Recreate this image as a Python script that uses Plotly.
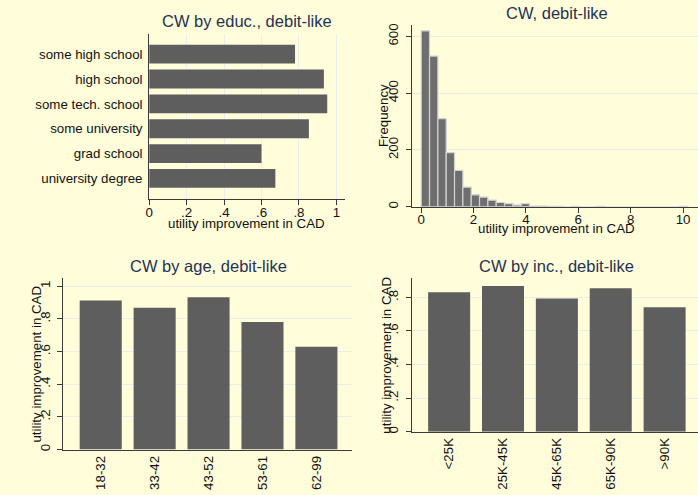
import plotly.graph_objects as go

W, H = 698, 495

# ---- data ----
educ_cats = ["some high school", "high school", "some tech. school",
             "some university", "grad school", "university degree"]
educ_vals = [0.779, 0.933, 0.951, 0.853, 0.600, 0.674]

hist_start = 0.005
hist_width = 0.318
hist_counts = [620, 531, 310, 191, 128, 69, 42, 34, 23, 15, 11, 6, 11, 2,
               2, 1, 1, 0, 1, 0, 0, 1, 0, 0, 0, 0, 0, 0, 0, 0, 0, 1]

age_cats = ["18-32", "33-42", "43-52", "53-61", "62-99"]
age_vals = [0.913, 0.868, 0.933, 0.781, 0.629]

inc_cats = ["<25K", "25K-45K", "45K-65K", "65K-90K", ">90K"]
inc_vals = [0.830, 0.867, 0.793, 0.854, 0.741]

x_title = "utility improvement in CAD"

# ---- style ----
BG = "#FFFDDA"
BAR = "#5E5E5E"
HBAR = "#6E6E6E"
GRID = "#E9EEE6"
AXIS = "#3A3A3A"
TITLE_C = "#1F3352"
FONT = "Arial, Liberation Sans, sans-serif"
FS = 13.3
TFS = 16.5
TICKF = dict(family=FONT, size=FS, color="#111111")

def px_x(p):
    return p / W

def px_y(p):
    return 1 - p / H

fig = go.Figure()

hist_centers = [hist_start + hist_width * (i + 0.5) for i in range(len(hist_counts))]

fig.add_trace(go.Bar(x=educ_vals, y=educ_cats, orientation="h", width=0.76,
                     marker=dict(color=BAR, line=dict(width=0)),
                     xaxis="x", yaxis="y", showlegend=False))
fig.add_trace(go.Bar(x=hist_centers, y=hist_counts, width=hist_width,
                     marker=dict(color=HBAR, line=dict(color="#D2D2D2", width=1.2)),
                     xaxis="x2", yaxis="y2", showlegend=False))
fig.add_trace(go.Bar(x=age_cats, y=age_vals, width=0.78,
                     marker=dict(color=BAR, line=dict(width=0)),
                     xaxis="x3", yaxis="y3", showlegend=False))
fig.add_trace(go.Bar(x=inc_cats, y=inc_vals, width=0.78,
                     marker=dict(color=BAR, line=dict(width=0)),
                     xaxis="x4", yaxis="y4", showlegend=False))

common = dict(showline=True, linecolor=AXIS, linewidth=1, ticks="outside",
              ticklen=5, tickcolor=AXIS, tickwidth=1, tickfont=TICKF,
              zeroline=False, fixedrange=True)
nocat = dict(showline=True, linecolor=AXIS, linewidth=1, ticks="",
             tickfont=TICKF, zeroline=False, fixedrange=True)

YSO = 2

layout = dict(
    width=W, height=H, margin=dict(l=0, r=0, t=0, b=0),
    paper_bgcolor=BG, plot_bgcolor=BG, showlegend=False,
    font=dict(family=FONT, size=FS, color="#111111"),
    # panel 1
    xaxis=dict(domain=[px_x(146), px_x(343)], anchor="y", range=[0, 1.046],
               tickvals=[0, 0.2, 0.4, 0.6, 0.8, 1], ticktext=["0", ".2", ".4", ".6", ".8", "1"],
               showgrid=True, gridcolor=GRID, gridwidth=1, ticklabelstandoff=-4, **common),
    yaxis=dict(domain=[px_y(199), px_y(33)], anchor="x", range=[5.82, -0.82],
               type="category", categoryorder="array", categoryarray=educ_cats,
               showgrid=False, ticklabelstandoff=3, **nocat),
    # panel 2
    xaxis2=dict(domain=[px_x(410), 1.0], anchor="y2", range=[-0.36, 10.57],
                tickvals=[0, 2, 4, 6, 8, 10], showgrid=False, ticklabelstandoff=-5, **common),
    yaxis2=dict(domain=[px_y(207), px_y(24)], anchor="x2", range=[0, 641],
                tickvals=[0, 200, 400, 600], tickangle=-90, ticklabelstandoff=YSO,
                showgrid=True, gridcolor=GRID, gridwidth=1, **common),
    # panel 3
    xaxis3=dict(domain=[px_x(59.3), px_x(350)], anchor="y3", range=[-0.70, 4.66],
                type="category", categoryorder="array", categoryarray=age_cats,
                tickangle=-90, showgrid=False, **nocat),
    yaxis3=dict(domain=[px_y(451.3), px_y(278.7)], anchor="x3", range=[0, 1.0505],
                tickvals=[0, 0.2, 0.4, 0.6, 0.8, 1], ticktext=["0", ".2", ".4", ".6", ".8", "1"],
                tickangle=-90, ticklabelstandoff=YSO,
                showgrid=True, gridcolor=GRID, gridwidth=1, **common),
    # panel 4
    xaxis4=dict(domain=[px_x(410), 1.0], anchor="y4", range=[-0.696, 4.62],
                type="category", categoryorder="array", categoryarray=inc_cats,
                tickangle=-90, showgrid=False, **nocat),
    yaxis4=dict(domain=[px_y(433.3), px_y(278.7)], anchor="x4", range=[0, 0.915],
                tickvals=[0, 0.2, 0.4, 0.6, 0.8], ticktext=["0", ".2", ".4", ".6", ".8"],
                tickangle=-90, ticklabelstandoff=YSO,
                showgrid=True, gridcolor=GRID, gridwidth=1, **common),
)
fig.update_layout(**layout)

def ann(text, x, y, size=FS, color="#111111", angle=0):
    fig.add_annotation(text=text, x=px_x(x), y=px_y(y), xref="paper", yref="paper",
                       showarrow=False, xanchor="center", yanchor="middle",
                       textangle=angle, font=dict(family=FONT, size=size, color=color))

# panel titles
ann("CW by educ., debit-like", 244, 20, size=TFS, color=TITLE_C)
ann("CW, debit-like", 556, 12.5, size=TFS, color=TITLE_C)
ann("CW by age, debit-like", 206, 266.5, size=TFS, color=TITLE_C)
ann("CW by inc., debit-like", 555.5, 266.5, size=TFS, color=TITLE_C)

# axis titles
ann(x_title, 244, 223.5)
ann(x_title, 556, 228.5)
ann("Frequency", 381.5, 115.5, angle=-90)
ann(x_title, 33, 365, angle=-90)
ann(x_title, 385, 356, angle=-90)

fig.write_html("out.html", config={"displayModeBar": False},
               post_script="document.body.style.margin='0';document.body.style.padding='0';"
                           "document.body.style.background='" + BG + "';")
